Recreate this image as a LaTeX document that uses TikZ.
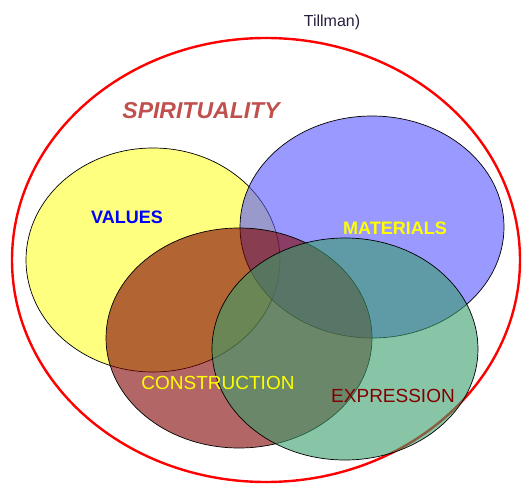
\documentclass[tikz,border=0pt]{standalone}
\usepackage{fontspec}
\setmainfont{Liberation Sans}
\usepackage{tikz}
\usetikzlibrary{positioning, shapes.geometric}

\definecolor{spiritred}{RGB}{192,80,77}
\definecolor{valuesfill}{RGB}{255,255,0}
\definecolor{materialsfill}{RGB}{85,85,255}
\definecolor{constructionfill}{RGB}{128,0,0}
\definecolor{expressionfill}{RGB}{57,157,107}
\definecolor{tillmangray}{RGB}{40,30,60}

\begin{document}
\begin{tikzpicture}[x = 1pt, y = -1pt,
    set/.style = {shape = ellipse, draw = black, line width = 0.7pt, inner sep = 0pt},
    setlabel/.style = {inner sep = 0pt, font = \fontsize{18}{18}\selectfont}]
                    \useasboundingbox (0, 0) rectangle (522, 484);
                    \node [shape = ellipse, draw = red, line width = 2.4pt, inner sep = 0pt,
                        minimum width = 508pt, minimum height = 444pt] (spirit) at (266, 260) {};

                    \node [set, fill = valuesfill, fill opacity = 0.5,
                        minimum width = 254pt, minimum height = 224pt] (values) at (153, 260) {};
                    \node [set, fill = materialsfill, fill opacity = 0.6,
                        minimum width = 264pt, minimum height = 222pt] (materials) at (372, 227) {};
                    \node [set, fill = constructionfill, fill opacity = 0.6,
                        minimum width = 266pt, minimum height = 220pt] (construction) at (239, 338) {};
                    \node [set, fill = expressionfill, fill opacity = 0.6,
                        minimum width = 266pt, minimum height = 222pt] (expression) at (345, 349) {};

                    \node [inner sep = 0pt, text = tillmangray, font = \fontsize{16}{16}\selectfont] (source) at (332, 22) {Tillman)};
                    \node [inner sep = 0pt, text = spiritred, font = \fontsize{23}{23}\selectfont\bfseries\itshape] (spiritlabel) at (201, 111) {SPIRITUALITY};
                    \node [setlabel, text = blue, font = \fontsize{18}{18}\selectfont\bfseries] (valueslabel) at (127, 217) {VALUES};
                    \node [setlabel, text = valuesfill, font = \fontsize{18}{18}\selectfont\bfseries] (materialslabel) at (395, 228) {MATERIALS};
                    \node [setlabel, text = valuesfill, font = \fontsize{19}{19}\selectfont] (constructionlabel) at (218, 383) {CONSTRUCTION};
                    \node [setlabel, text = constructionfill, font = \fontsize{19}{19}\selectfont] (expressionlabel) at (393, 396) {EXPRESSION};
                \end{tikzpicture}
\end{document}
